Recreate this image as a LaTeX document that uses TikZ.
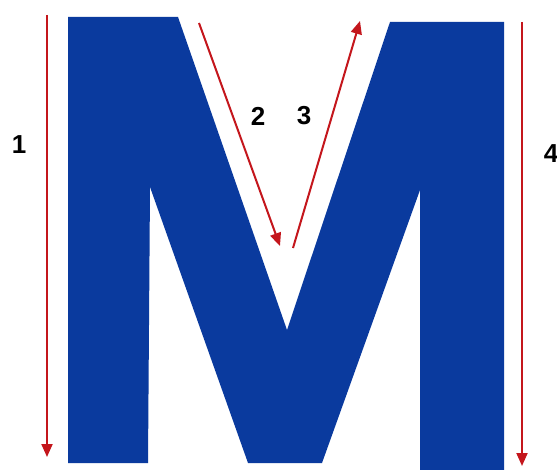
\documentclass[tikz,border=0pt]{standalone}
\usepackage{fontspec}
\setmainfont{Liberation Sans}
\usetikzlibrary{arrows.meta}
\definecolor{mblue}{HTML}{0A3A9E}
\definecolor{ared}{HTML}{C4161C}
\begin{document}
\begin{tikzpicture}[x=1pt,y=-1pt,
  arr/.style={draw=ared,line width=2pt,-{Triangle[length=13pt,width=11pt]}},
  lbl/.style={font=\fontsize{26}{26}\selectfont\bfseries,text=black,inner sep=0pt}]
\useasboundingbox (0,0) rectangle (557,470);
\fill[white] (0,0) rectangle (557,470);
% letter M
\fill[mblue] (68,17) -- (178,17) -- (287,330) -- (390,22) -- (504,22) -- (504,470)
  -- (420,470) -- (420,190) -- (322,463) -- (248,463) -- (150,187) -- (148,463)
  -- (68,463) -- cycle;
% arrow endpoints
\coordinate (a1s) at (47,15);  \coordinate (a1e) at (47,457);
\coordinate (a2s) at (199,23); \coordinate (a2e) at (280,246);
\coordinate (a3s) at (293,248);\coordinate (a3e) at (360,21);
\coordinate (a4s) at (522,22); \coordinate (a4e) at (522,466);
\draw[arr] (a1s) -- (a1e);
\draw[arr] (a2s) -- (a2e);
\draw[arr] (a3s) -- (a3e);
\draw[arr] (a4s) -- (a4e);
% labels
\node[lbl] (l1) at (19,145) {1};
\node[lbl] (l2) at (258,116) {2};
\node[lbl] (l3) at (304,116) {3};
\node[lbl] (l4) at (551,154) {4};
\end{tikzpicture}
\end{document}
